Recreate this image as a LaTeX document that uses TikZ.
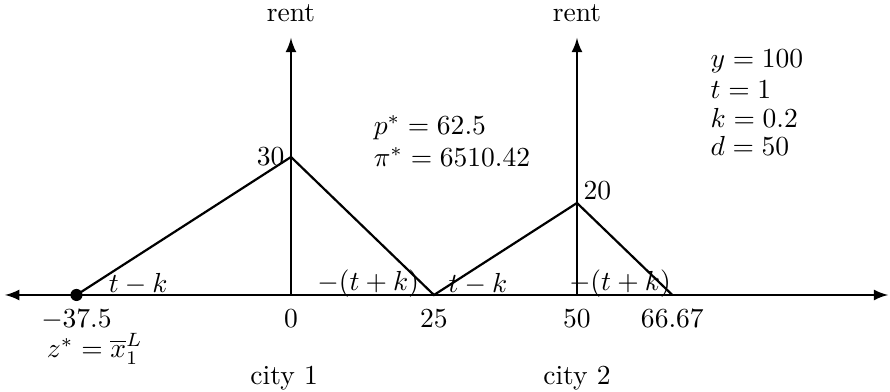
\documentclass[tikz,border=0pt]{standalone}
\usepackage{amsmath,amssymb}
\usepackage{tikz}
\usetikzlibrary{arrows,positioning,calc}

\begin{document}
\begin{tikzpicture}[x=0.073cm, y=0.0587cm, >=latex, thick]
\useasboundingbox (-50.87,-21.09) rectangle (104.72,64.13);
\tikzset{lbl/.style={inner sep=1pt}}
% axes
\coordinate (xl) at (-50,0);
\coordinate (xr) at (104.4,0);
\draw[<->] (xl) -- (xr);
\foreach \c/\xx in {1/0, 2/50}{
  \coordinate (base\c) at (\xx,0);
  \coordinate (top\c) at (\xx,55.9);
  \draw[->] (base\c) -- (top\c);
  \node[above=2pt] (rent\c) at (top\c) {rent};
}
% rent curve
\coordinate (zl) at (-37.5,0);
\coordinate (pk1) at (0,30);
\coordinate (mid) at (25,0);
\coordinate (pk2) at (50,20);
\coordinate (zr) at (66.67,0);
\draw (zl) -- (pk1) -- (mid) -- (pk2) -- (zr);
\fill (zl) circle (2.2pt);
% tick labels
\foreach \xx/\txt in {-37.5/$-37.5$, 0/$0$, 25/$25$, 50/$50$, 66.67/$66.67$}{
  \node[below=4pt, lbl] (tk\xx) at (\xx,0) {\txt};
}
\node[lbl] (zstar) at (-34.3,-11.7) {$z^{*}=\overline{x}_1^{L}$};
\node (city1) at (-1.2,-18.0) {city 1};
\node (city2) at (50,-18.0) {city 2};
% slope labels
\node (s1) at (-26.7,2.4) {$t-k$};
\node (s2) at (13.5,2.4) {$-(t+k)$};
\node (s3) at (32.7,2.4) {$t-k$};
\node (s4) at (57.5,2.4) {$-(t+k)$};
% peak values
\node[left=1pt, lbl] (v30) at (pk1) {$30$};
\node[above right=0pt and 1pt, lbl] (v20) at (pk2) {$20$};
% optimum
\node[anchor=west, lbl] (pstar) at (13.8,36.3) {$p^{*}=62.5$};
\node[anchor=west, lbl] (pistar) at (13.8,30) {$\pi^{*}=6510.42$};
% parameters
\foreach \txt [count=\i from 0] in {$y=100$, $t=1$, $k=0.2$, $d=50$}{
  \node[anchor=west, lbl] (par\i) at (72.7,50.7-6.1*\i) {\txt};
}
\end{tikzpicture}
\end{document}
